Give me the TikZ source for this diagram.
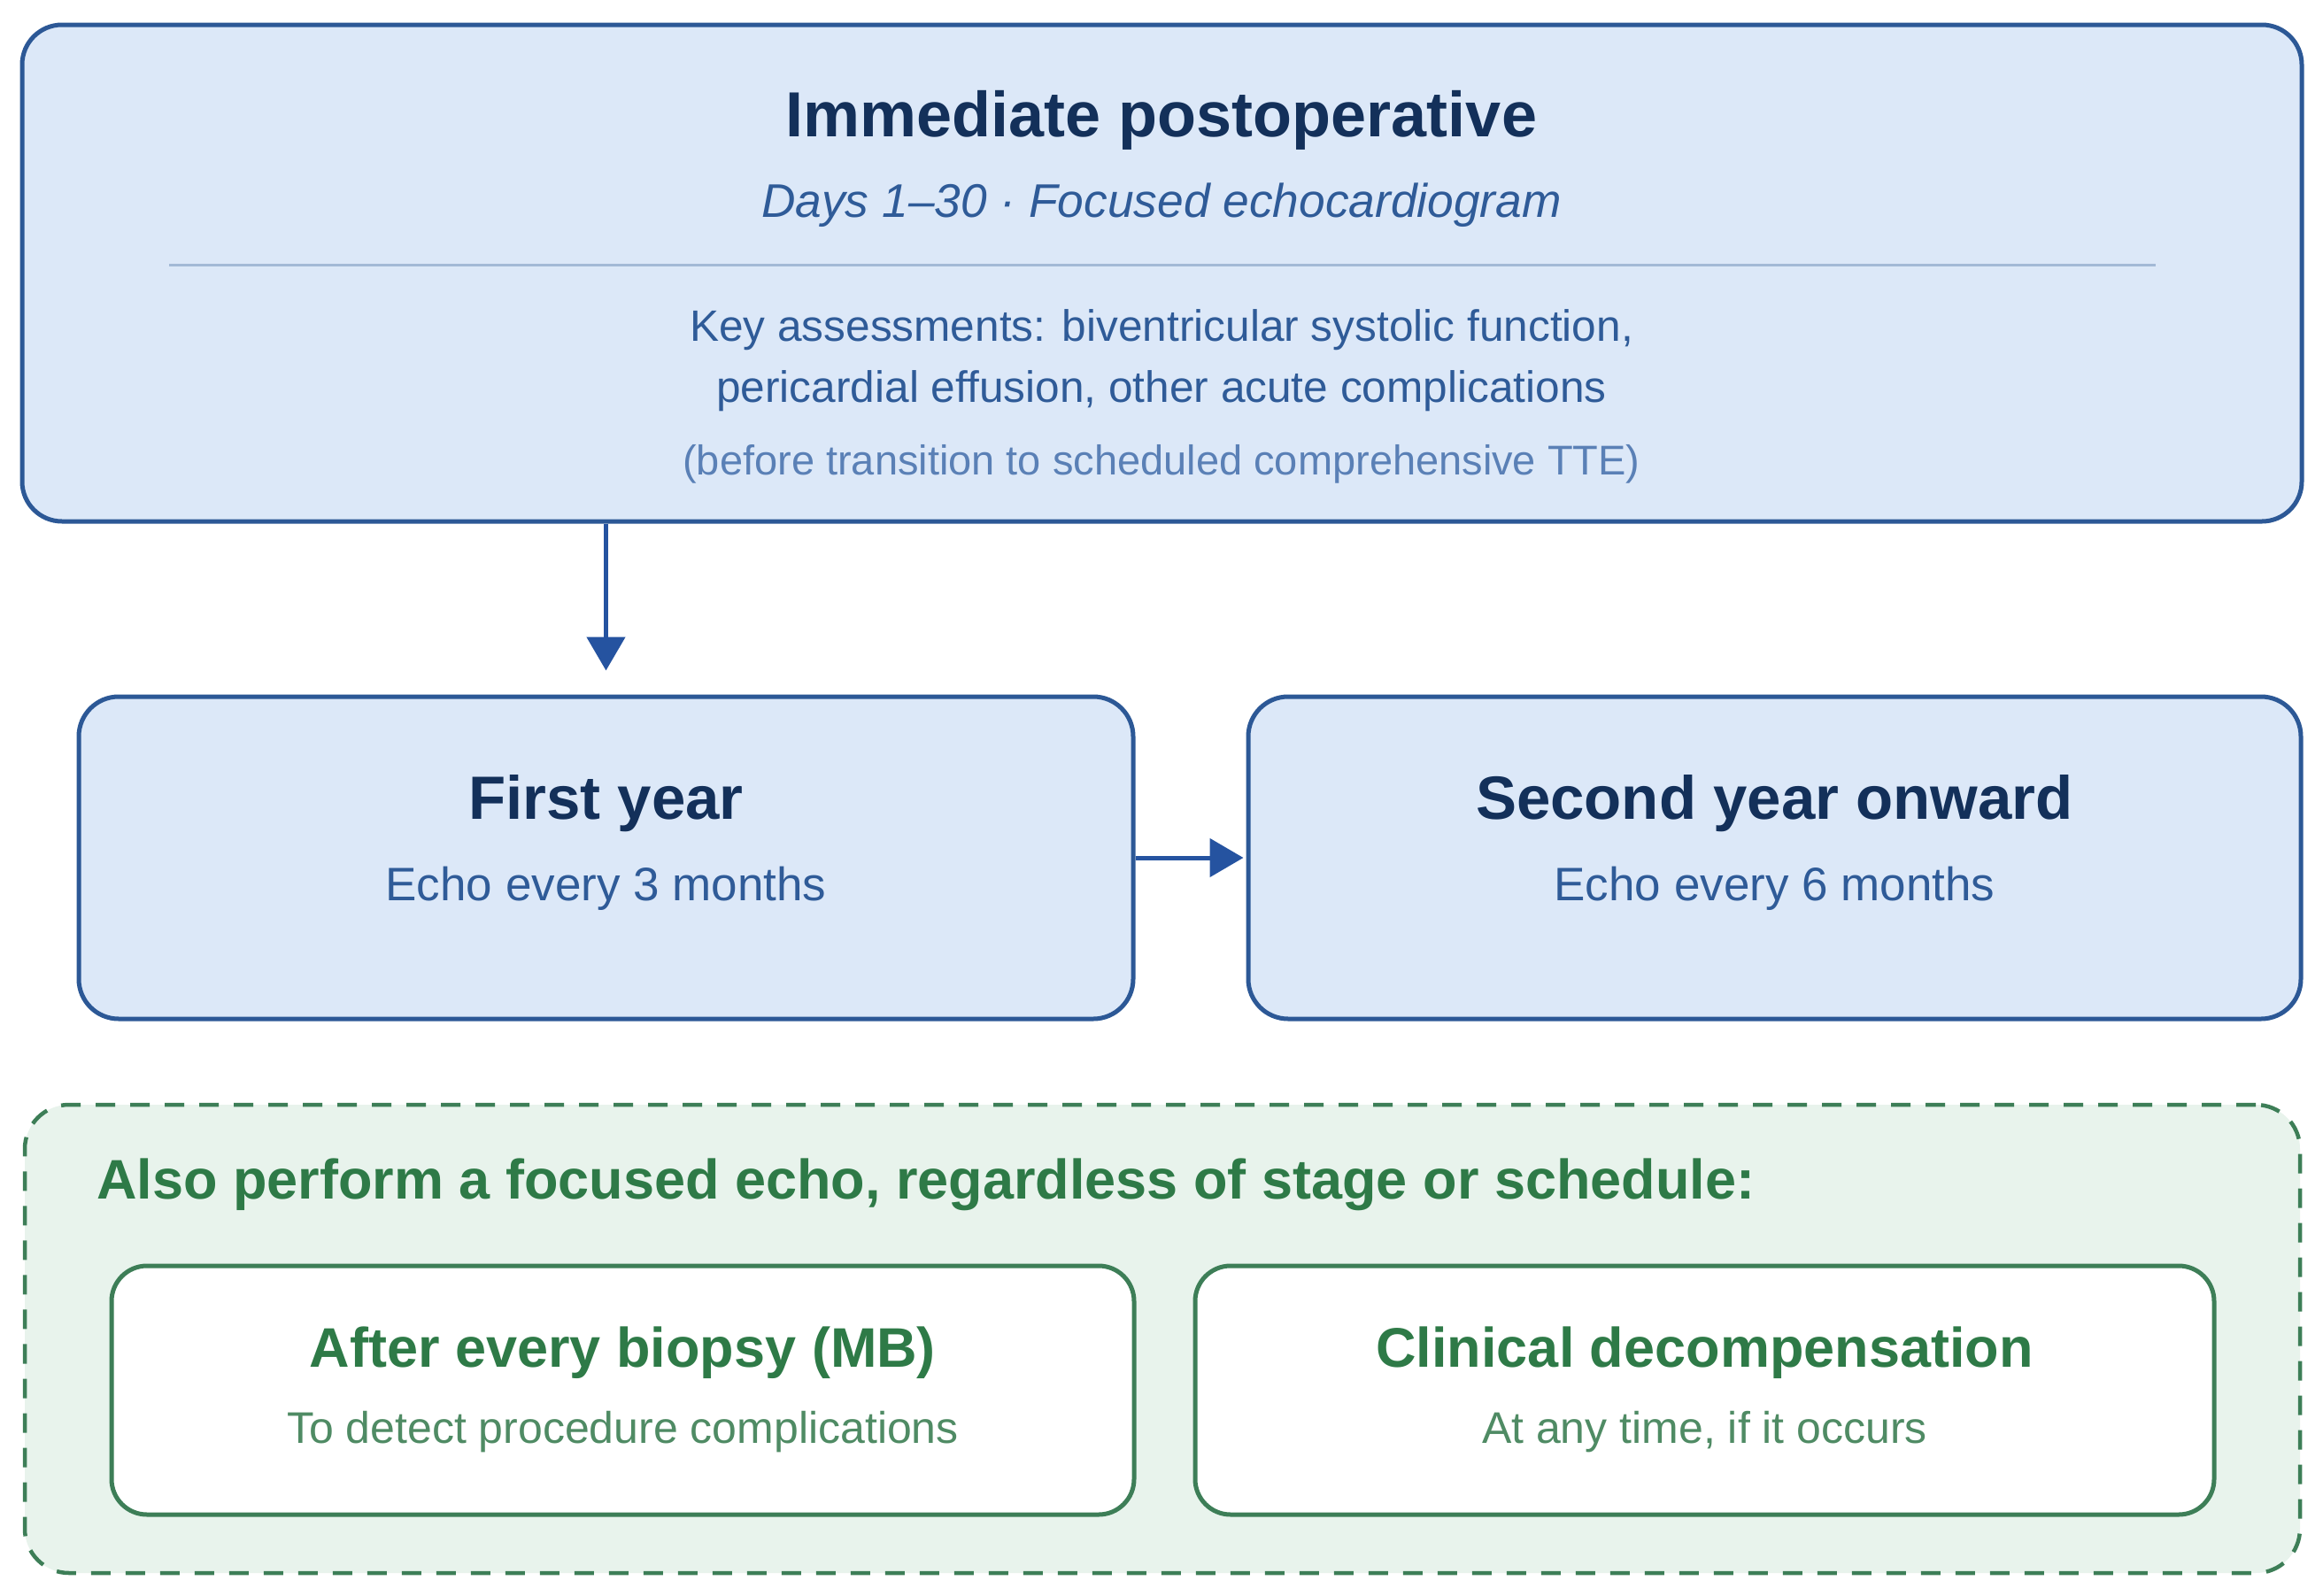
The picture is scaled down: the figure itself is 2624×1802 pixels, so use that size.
\documentclass[tikz,border=0pt]{standalone}
\usepackage{fontspec}
\setmainfont{Liberation Sans}
\usetikzlibrary{arrows.meta}
\definecolor{bfill}{HTML}{DCE8F8}
\definecolor{bline}{HTML}{2C5896}
\definecolor{navy}{HTML}{13305A}
\definecolor{btext}{HTML}{2F5B98}
\definecolor{blight}{HTML}{5A80B6}
\definecolor{divc}{HTML}{A3B9D6}
\definecolor{arrc}{HTML}{2553A0}
\definecolor{gfill}{HTML}{E8F3EC}
\definecolor{gline}{HTML}{3D7E57}
\definecolor{gtext}{HTML}{2E7A47}
\definecolor{gsub}{HTML}{4F8B64}
\begin{document}
\begin{tikzpicture}[x=1pt,y=-1pt,
  bluebox/.style={draw=bline, fill=bfill, line width=5pt, rounded corners=45pt, inner sep=0pt},
  greenouter/.style={draw=gline, fill=gfill, line width=4.5pt, rounded corners=50pt, dash pattern=on 22pt off 17pt, inner sep=0pt},
  greeninner/.style={draw=gline, fill=white, line width=5pt, rounded corners=40pt, inner sep=0pt},
  txt/.style={anchor=base, inner sep=0pt},
  bigtitle/.style={txt, font=\fontsize{72}{86}\selectfont\bfseries, text=navy},
  subtitle/.style={txt, font=\fontsize{53.3}{64}\selectfont\itshape, text=btext},
  keyline/.style={txt, font=\fontsize{49.6}{60}\selectfont, text=btext},
  noteline/.style={txt, font=\fontsize{47}{58}\selectfont, text=blight},
  boxtitle/.style={txt, font=\fontsize{69}{80}\selectfont\bfseries, text=navy},
  boxsub/.style={txt, font=\fontsize{53}{62}\selectfont, text=btext},
  ghead/.style={anchor=base west, inner sep=0pt, font=\fontsize{63}{74}\selectfont\bfseries, text=gtext},
  gtitle/.style={txt, font=\fontsize{63}{74}\selectfont\bfseries, text=gtext},
  gsubline/.style={txt, font=\fontsize{50}{60}\selectfont, text=gsub},
  arr/.style={draw=arrc, line width=5pt, -{Triangle[length=38pt,width=43pt]}}
]
\useasboundingbox (0,0) rectangle (2624,1802);
\fill[white] (0,0) rectangle (2624,1802);

% top box
\node[bluebox, minimum width=2575pt, minimum height=561pt] (top) at (1312.5,308.5) {};
\node[bigtitle] (toptitle) at (1312,154) {Immediate postoperative};
\node[subtitle] (topsub) at (1312,245) {Days 1–30 · Focused echocardiogram};
\coordinate (divl) at (191,299);
\coordinate (divr) at (2435,299);
\draw[divc, line width=3pt] (divl) -- (divr);
\node[keyline] (key1) at (1312,385) {Key assessments: biventricular systolic function,};
\node[keyline] (key2) at (1312,454) {pericardial effusion, other acute complications};
\node[noteline] (key3) at (1312,536) {(before transition to scheduled comprehensive TTE)};

% stage boxes
\node[bluebox, minimum width=1191pt, minimum height=364pt] (first) at (684.5,969) {};
\node[boxtitle] (firstt) at (684.5,925) {First year};
\node[boxsub] (firsts) at (684.5,1017) {Echo every 3 months};

\node[bluebox, minimum width=1189pt, minimum height=364pt] (second) at (2004.5,969) {};
\node[boxtitle] (secondt) at (2004.5,925) {Second year onward};
\node[boxsub] (seconds) at (2004.5,1017) {Echo every 6 months};

% arrows
\draw[arr, shorten >=27pt] (top.south -| first.north) -- (first.north);
\draw[arr, shorten >=3pt] (first.east) -- (second.west);

% green panel
\node[greenouter, minimum width=2570pt, minimum height=529pt] (panel) at (1313,1512.5) {};
\node[ghead] (phead) at (109,1354) {Also perform a focused echo, regardless of stage or schedule:};

\node[greeninner, minimum width=1155pt, minimum height=281pt] (biopsy) at (703.5,1570.5) {};
\node[gtitle] (biopsyt) at (703.5,1544) {After every biopsy (MB)};
\node[gsubline] (biopsys) at (703.5,1630) {To detect procedure complications};

\node[greeninner, minimum width=1151pt, minimum height=281pt] (decomp) at (1925.5,1570.5) {};
\node[gtitle] (decompt) at (1925.5,1544) {Clinical decompensation};
\node[gsubline] (decomps) at (1925.5,1630) {At any time, if it occurs};
\end{tikzpicture}
\end{document}
